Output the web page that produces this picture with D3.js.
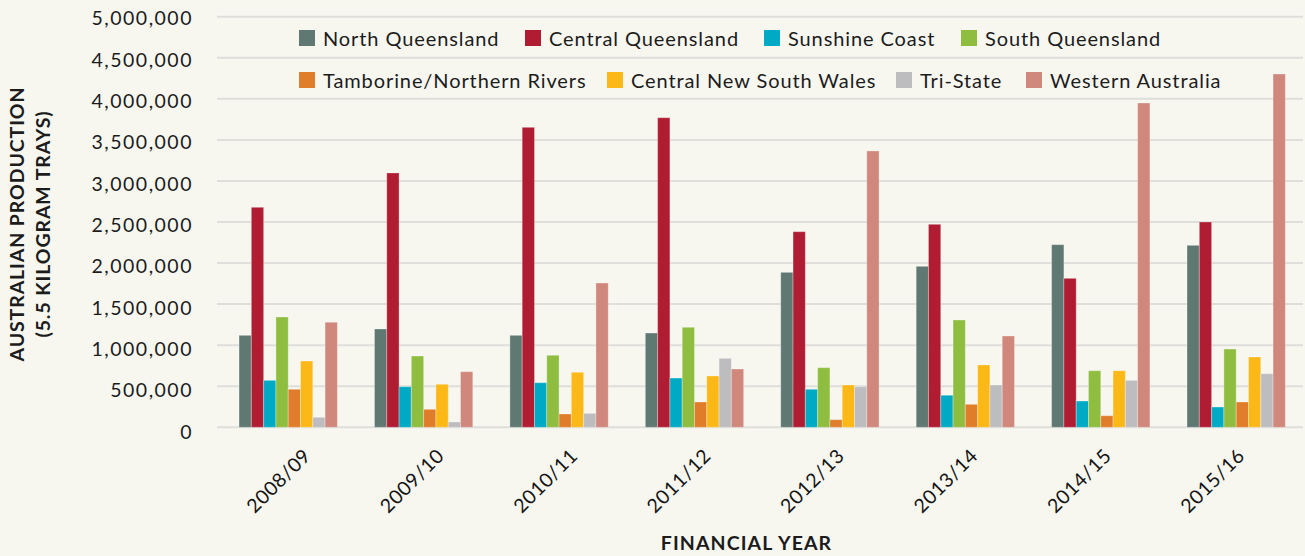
<!DOCTYPE html>
<html>
<head>
<meta charset="utf-8">
<script src="https://cdn.jsdelivr.net/npm/d3@7"></script>
<style>
  html, body { margin: 0; padding: 0; background: #f7f7f0; }
  svg { display: block; font-family: Lato, "Open Sans", sans-serif; }
</style>
</head>
<body>
<svg id="chart" width="1305" height="556"></svg>
<script>
// ---- data ----
const years = ["2008/09", "2009/10", "2010/11", "2011/12", "2012/13", "2013/14", "2014/15", "2015/16"];
const seriesNames = ["North Queensland", "Central Queensland", "Sunshine Coast", "South Queensland",
  "Tamborine/Northern Rivers", "Central New South Wales", "Tri-State", "Western Australia"];
const seriesColors = ["#5f7872", "#b01c32", "#00aac4", "#8fbd40", "#e07d2a", "#fcb816", "#bdbdbf", "#d0877c"];

const northQueensland   = [1120000, 1197000, 1120000, 1148000, 1887000, 1960000, 2224000, 2216000];
const centralQueensland = [2679000, 3097000, 3653000, 3770000, 2382000, 2472000, 1814000, 2500000];
const sunshineCoast     = [572000, 494000, 543000, 600000, 463000, 390000, 320000, 247000];
const southQueensland   = [1343000, 868000, 877000, 1218000, 726000, 1307000, 689000, 953000];
const tamborine         = [463000, 219000, 162000, 308000, 93000, 280000, 141000, 308000];
const centralNSW        = [807000, 524000, 670000, 625000, 515000, 759000, 689000, 856000];
const triState          = [122000, 65000, 170000, 840000, 494000, 515000, 572000, 653000];
const westernAustralia  = [1279000, 677000, 1757000, 710000, 3365000, 1112000, 3949000, 4302000];

const seriesValues = [northQueensland, centralQueensland, sunshineCoast, southQueensland,
  tamborine, centralNSW, triState, westernAustralia];

const yTicks = [0, 500000, 1000000, 1500000, 2000000, 2500000, 3000000, 3500000, 4000000, 4500000, 5000000];

// ---- layout ----
const svg = d3.select("#chart");

const y = d3.scaleLinear().domain([0, 5000000]).range([427.3, 16.7]);
const yLabel = d3.scaleLinear().domain([0, 5000000]).range([438.5, 25.3]);
const x0 = d3.scaleBand().domain(years).range([220.5, 1303.9]).paddingInner(0.274).paddingOuter(0.137);
const x1 = d3.scaleBand().domain(seriesNames).range([0, x0.bandwidth()]).padding(0);
const xLabel = d3.scalePoint().domain(years).range([312, 1246]);

// gridlines
svg.append("g").selectAll("line").data(yTicks).join("line")
  .attr("x1", 217).attr("x2", 1303)
  .attr("y1", d => y(d)).attr("y2", d => y(d))
  .attr("stroke", "#dededb").attr("stroke-width", 2);

// y tick labels
svg.append("g").selectAll("text").data(yTicks).join("text")
  .attr("x", 193).attr("y", d => yLabel(d))
  .attr("text-anchor", "end")
  .attr("font-size", 19.5).attr("letter-spacing", "1.5px")
  .attr("fill", "#1c1c1c")
  .text(d => d3.format(",")(d));

// bars
const groups = svg.append("g").selectAll("g").data(years).join("g")
  .attr("transform", d => `translate(${x0(d)},0)`);
groups.selectAll("rect")
  .data((yr, i) => seriesNames.map((s, j) => ({ s, j, v: seriesValues[j][i] })))
  .join("rect")
  .attr("x", d => x1(d.s))
  .attr("width", x1.bandwidth())
  .attr("y", d => y(d.v))
  .attr("height", d => y(0) - y(d.v))
  .attr("fill", d => seriesColors[d.j])
  .attr("stroke", "#ffffff").attr("stroke-opacity", 0.3).attr("stroke-width", 1);

// x labels
svg.append("g").selectAll("text").data(years).join("text")
  .attr("transform", d => `translate(${xLabel(d)},457) rotate(-45)`)
  .attr("text-anchor", "end")
  .attr("font-size", 19.5).attr("letter-spacing", "0.6px")
  .attr("fill", "#141414")
  .text(d => d);

// axis titles
svg.append("text")
  .attr("x", 746.5).attr("y", 550)
  .attr("text-anchor", "middle")
  .attr("font-size", 19.5).attr("font-weight", "bold").attr("letter-spacing", "1.1px")
  .attr("fill", "#1c1c1c")
  .text("FINANCIAL YEAR");

const yTitle = svg.append("text")
  .attr("transform", "translate(24,224) rotate(-90)")
  .attr("text-anchor", "middle")
  .attr("font-size", 19.5).attr("font-weight", "bold").attr("letter-spacing", "0.9px")
  .attr("fill", "#1c1c1c");
yTitle.append("tspan").attr("x", 0).attr("y", 0).text("AUSTRALIAN PRODUCTION");
yTitle.append("tspan").attr("x", 0).attr("y", 26).text("(5.5 KILOGRAM TRAYS)");

// legend: two rows of four, swatch left edges as in the reference layout
const legendRows = [seriesNames.slice(0, 4), seriesNames.slice(4)];
const legendSlotX = [[299, 525, 764, 961], [299, 607, 896, 1026]];
const rowBaselines = [45.7, 87.7];
legendRows.forEach((row, r) => {
  row.forEach((name, k) => {
    const j = seriesNames.indexOf(name);
    const cx = legendSlotX[r][k];
    const g = svg.append("g");
    g.append("rect").attr("x", cx).attr("y", rowBaselines[r] - 15.7)
      .attr("width", 16).attr("height", 16).attr("fill", seriesColors[j]);
    g.append("text").attr("x", cx + 24).attr("y", rowBaselines[r])
      .attr("font-size", 20).attr("letter-spacing", "0.9px")
      .attr("fill", "#1c1c1c").text(name);
  });
});
</script>
</body>
</html>
